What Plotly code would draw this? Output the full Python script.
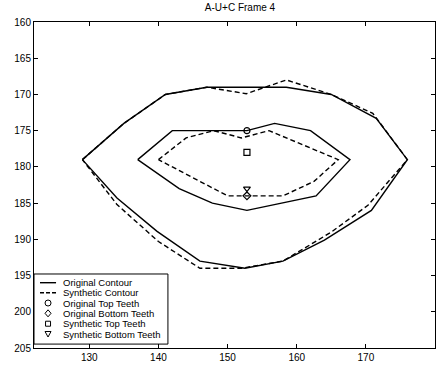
import plotly.graph_objects as go

# Outer + inner original contour (solid)
orig_outer_x = [129, 135, 141, 147, 158.5, 165, 171.5, 176, 170.8, 164, 158, 152.5, 146, 139.8, 134, 129]
orig_outer_y = [179, 174, 170, 169, 169, 170, 173.3, 179, 186, 190.1, 193, 194, 193, 188.9, 184.3, 179]
orig_inner_x = [137, 142, 152.8, 156.8, 162, 167.7, 162.8, 152.8, 147.8, 143, 137]
orig_inner_y = [179, 175, 175, 174, 175, 179, 184, 186, 185, 183, 179]

# Synthetic contour (dashed)
syn_outer_x = [129, 135, 141, 147, 152.7, 158.5, 165, 171, 176, 170.3, 165, 158, 152, 146, 140, 134, 129]
syn_outer_y = [179, 174, 170, 169, 169.9, 168, 170, 172.6, 179, 185.3, 189, 193, 194, 194, 190.3, 185.2, 179]
syn_inner_x = [140, 144, 148, 152, 156, 166, 162.5, 158, 150, 140]
syn_inner_y = [179, 176, 175, 176, 175, 179, 182, 184, 184, 179]

# Teeth
orig_top_teeth = (152.8, 175)
orig_bottom_teeth = (152.8, 184)
syn_top_teeth = (152.8, 178)
syn_bottom_teeth = (152.8, 183)

x_ticks = [130, 140, 150, 160, 170, 180]
y_ticks = [160, 165, 170, 175, 180, 185, 190, 195, 200, 205]

legend_labels = ["Original Contour", "Synthetic Contour", "Original Top Teeth",
                 "Original Bottom Teeth", "Synthetic Top Teeth", "Synthetic Bottom Teeth"]

FONT = "Liberation Sans, Arial, sans-serif"
DASH = "5px,3px"
LW = 1.4

fig = go.Figure()


def contour(xs, ys, dash):
    fig.add_trace(go.Scatter(x=xs, y=ys, mode="lines",
                             line=dict(color="black", width=LW, dash=dash),
                             showlegend=False, hoverinfo="skip"))


contour(orig_outer_x, orig_outer_y, "solid")
contour(orig_inner_x, orig_inner_y, "solid")
contour(syn_outer_x, syn_outer_y, DASH)
contour(syn_inner_x, syn_inner_y, DASH)

for pt, sym in [(orig_top_teeth, "circle-open"), (orig_bottom_teeth, "diamond-open"),
                (syn_top_teeth, "square-open"), (syn_bottom_teeth, "triangle-down-open")]:
    fig.add_trace(go.Scatter(x=[pt[0]], y=[pt[1]], mode="markers",
                             marker=dict(symbol=sym, size=6, color="black",
                                         line=dict(width=1.2, color="black")),
                             showlegend=False, hoverinfo="skip"))

# Custom legend (paper coordinates)
shapes = []
annotations = []
box_x0, box_x1, box_y0, box_y1 = 0.0, 0.334, 0.012, 0.227
shapes.append(dict(type="rect", xref="paper", yref="paper", x0=box_x0, x1=box_x1,
                   y0=box_y0, y1=box_y1, line=dict(color="black", width=1),
                   fillcolor="white", layer="above"))
entry_y = [0.2003, 0.1696, 0.1380, 0.1064, 0.0745, 0.0429]
sample_x0, sample_x1, sample_cx, text_x = 0.015, 0.055, 0.035, 0.0673

shapes.append(dict(type="line", xref="paper", yref="paper", x0=sample_x0, x1=sample_x1,
                   y0=entry_y[0], y1=entry_y[0], line=dict(color="black", width=LW), layer="above"))
shapes.append(dict(type="line", xref="paper", yref="paper", x0=sample_x0, x1=sample_x1,
                   y0=entry_y[1], y1=entry_y[1], line=dict(color="black", width=LW, dash="4px,2px"),
                   layer="above"))
r = 3
glyphs = [
    dict(type="circle", x0=-r, x1=r, y0=-r, y1=r),
    dict(type="path", path=f"M0,{-r-0.5} L{r},0 L0,{r+0.5} L{-r},0 Z"),
    dict(type="rect", x0=-r + 0.5, x1=r - 0.5, y0=-r + 0.5, y1=r - 0.5),
    dict(type="path", path=f"M{-r},{r-0.5} L{r},{r-0.5} L0,{-r} Z"),
]
for g, yy in zip(glyphs, entry_y[2:]):
    s = dict(xref="paper", yref="paper", xsizemode="pixel", ysizemode="pixel",
             xanchor=sample_cx, yanchor=yy, line=dict(color="black", width=1),
             fillcolor="rgba(0,0,0,0)", layer="above")
    s.update(g)
    shapes.append(s)

for lab, yy in zip(legend_labels, entry_y):
    annotations.append(dict(text=lab, xref="paper", yref="paper", x=text_x, y=yy,
                            xanchor="left", yanchor="middle", showarrow=False,
                            font=dict(family=FONT, size=9.5, color="black")))

axis_common = dict(showgrid=False, zeroline=False, showline=True, linecolor="black",
                   linewidth=1, mirror="ticks", ticks="inside", ticklen=4,
                   tickcolor="black", tickwidth=1,
                   tickfont=dict(family=FONT, size=10, color="black"))

fig.update_layout(
    width=440, height=370,
    margin=dict(l=34, r=5, t=22, b=22),
    paper_bgcolor="white", plot_bgcolor="white",
    title=dict(text="A-U+C Frame 4", x=240 / 440, xanchor="center",
               xref="container", yref="container",
               y=1, yanchor="top", pad=dict(t=4, b=0, l=0, r=0),
               font=dict(family=FONT, size=10, color="black")),
    xaxis=dict(range=[122, 180], tickvals=x_ticks, ticktext=[str(v) for v in x_ticks], **axis_common),
    yaxis=dict(range=[205, 160], tickvals=y_ticks, ticktext=[str(v) for v in y_ticks], **axis_common),
    shapes=shapes, annotations=annotations, showlegend=False,
)

fig.write_html("out.html", config={"displayModeBar": False, "staticPlot": True},
               post_script="document.body.style.margin='0';document.body.style.overflow='hidden';")
